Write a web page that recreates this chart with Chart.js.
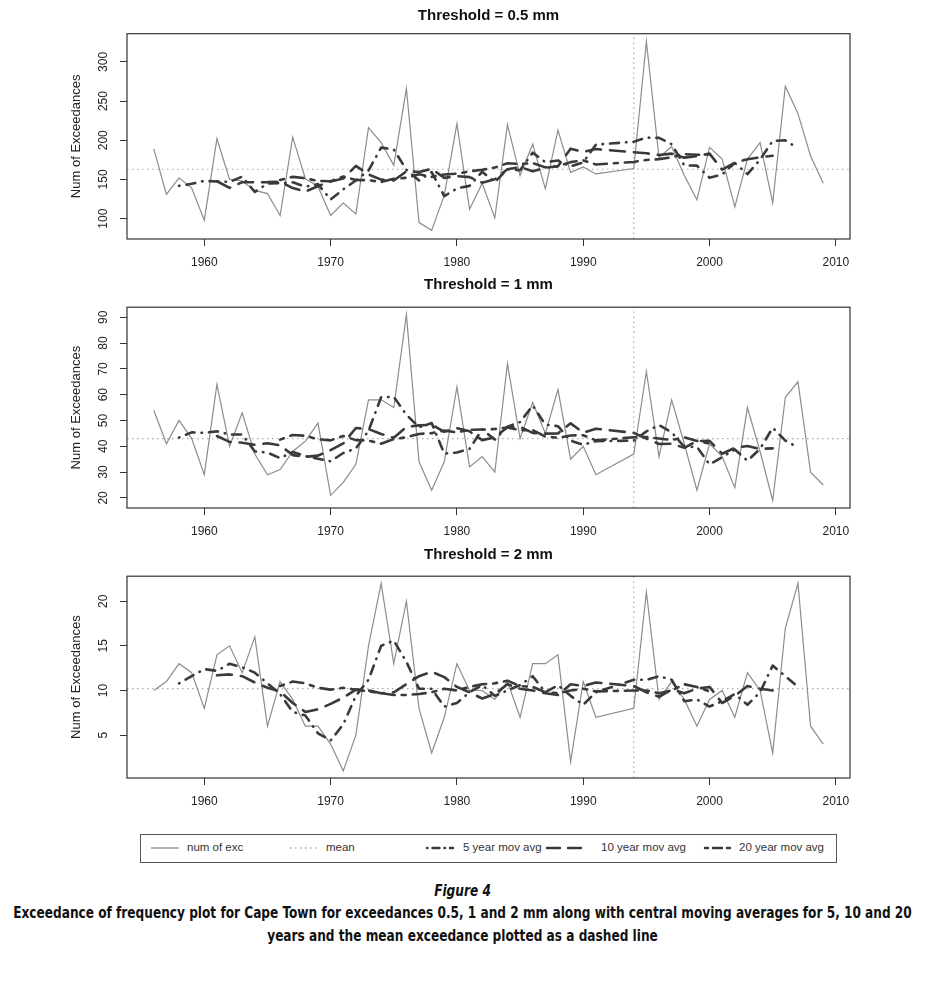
<!DOCTYPE html>
<html>
<head>
<meta charset="utf-8">
<script src="https://cdn.jsdelivr.net/npm/chart.js@4.4.1/dist/chart.umd.min.js"></script>
<style>
  body { margin: 0; background: #fff; overflow: hidden; }
  #page { position: relative; width: 925px; height: 990px; overflow: hidden; font-family: "Liberation Sans", Arial, sans-serif; color: #222; }
  canvas { position: absolute; left: 0; }
  .ttl { position: absolute; left: 127px; width: 723px; height: 18px; line-height: 18px; text-align: center; font-weight: bold; font-size: 15px; color: #111; }
  #legend { position: absolute; left: 140px; top: 834px; width: 695px; height: 27px; border: 1px solid #555; font-size: 11.5px; color: #333; }
  #legend svg, #legend span { position: absolute; }
  #legend span { top: 6px; }
  #legend svg { top: 8px; }
  .cap { position: absolute; left: -200px; width: 1325px; text-align: center; white-space: nowrap; font-family: "Liberation Sans Narrow", "DejaVu Sans Condensed", sans-serif; font-weight: bold; color: #111; font-size: 15px; transform: scaleX(0.9); transform-origin: 662.5px 0; }
</style>
</head>
<body>
<div id="page">
  <canvas id="p1" width="925" height="251" style="top:20px"></canvas>
  <canvas id="p2" width="925" height="250" style="top:290px"></canvas>
  <canvas id="p3" width="925" height="251" style="top:559px"></canvas>
  <div class="ttl" style="top:6px">Threshold = 0.5 mm</div>
  <div class="ttl" style="top:275px">Threshold = 1 mm</div>
  <div class="ttl" style="top:545px">Threshold = 2 mm</div>

  <div id="legend">
    <svg style="left:9px" width="30" height="10"><line x1="1" y1="5" x2="29" y2="5" stroke="#8c8c8c" stroke-width="1.3"/></svg>
    <span style="left:46px">num of exc</span>
    <svg style="left:148px" width="32" height="10"><line x1="1" y1="5" x2="31" y2="5" stroke="#aaa" stroke-width="1.3" stroke-dasharray="1.5 3.5"/></svg>
    <span style="left:185px">mean</span>
    <svg style="left:284px" width="30" height="10"><line x1="2" y1="5" x2="28" y2="5" stroke="#3a3a3a" stroke-width="2.4" stroke-linecap="round" stroke-dasharray="0.5 5 7 5"/></svg>
    <span style="left:322px">5 year mov avg</span>
    <svg style="left:404px" width="44" height="10"><line x1="2" y1="5" x2="42" y2="5" stroke="#3a3a3a" stroke-width="2.4" stroke-linecap="round" stroke-dasharray="13 8"/></svg>
    <span style="left:460px">10 year mov avg</span>
    <svg style="left:562px" width="30" height="10"><line x1="2" y1="5" x2="28" y2="5" stroke="#3a3a3a" stroke-width="2.4" stroke-linecap="round" stroke-dasharray="3 5 9 5"/></svg>
    <span style="left:598px">20 year mov avg</span>
  </div>

  <div class="cap" style="top:882px;font-style:italic">Figure 4</div>
  <div class="cap" style="top:904px">Exceedance of frequency plot for Cape Town for exceedances 0.5, 1 and 2 mm along with central moving averages for 5, 10 and 20</div>
  <div class="cap" style="top:927px">years and the mean exceedance plotted as a dashed line</div>
</div>

<script>
// years in the record (1992 and 1993 are missing)
var years = [1956,1957,1958,1959,1960,1961,1962,1963,1964,1965,1966,1967,1968,1969,1970,
  1971,1972,1973,1974,1975,1976,1977,1978,1979,1980,1981,1982,1983,1984,1985,1986,1987,
  1988,1989,1990,1991,1994,1995,1996,1997,1998,1999,2000,2001,2002,2003,2004,2005,2006,
  2007,2008,2009];
var xTicks = [1960,1970,1980,1990,2000,2010];
var xRange = [1953.88, 2011.12];
var markYear = 1994;

// threshold 0.5 mm
var exc05 = [189,131,152,139,98,202,150,148,136,132,104,204,151,141,104,120,106,216,197,168,
  266,95,85,130,221,112,145,101,220,155,195,138,213,159,166,157,164,326,178,192,155,124,
  191,176,115,176,197,120,269,234,180,145];
var ma5_05 = [null,null,141.8,144.4,148.2,147.4,146.8,153.6,134.0,144.8,145.4,146.4,140.8,
  144.0,124.4,137.4,148.6,161.4,190.6,188.4,162.2,148.8,159.4,128.6,138.6,141.8,159.8,
  146.6,163.2,161.8,184.2,172.0,174.2,166.6,171.8,194.4,198.2,203.4,203.0,195.0,168.0,
  167.6,152.2,156.4,171.0,156.8,175.4,199.2,200.0,189.6,null,null];
var ma10_05 = [null,null,null,null,null,147.7,139.2,146.5,146.4,146.6,147.2,139.0,134.6,
  141.4,147.5,151.1,167.3,156.4,149.8,148.7,160.4,159.6,163.5,152.0,154.3,153.0,145.9,
  150.2,163.0,165.9,160.4,164.9,166.8,189.3,185.1,188.8,184.8,183.4,181.2,182.9,177.8,
  179.7,183.0,162.4,171.5,175.7,178.2,180.3,null,null,null,null];
var ma20_05 = [null,null,null,null,null,null,null,null,null,null,149.4,153.3,151.5,148.1,
  147.7,153.8,149.3,149.1,146.7,150.9,152.1,156.6,153.3,156.4,157.3,160.4,162.3,165.2,
  170.7,169.7,170.9,165.4,166.8,172.1,174.4,169.1,172.3,174.9,175.9,178.3,182.3,181.5,
  181.9,null,null,null,null,null,null,null,null,null];
var mean05 = 163;
var yTicks05 = [100,150,200,250,300];

// threshold 1 mm
var exc1 = [54,41,50,43,29,64,40,53,37,29,31,38,42,49,21,26,33,58,58,55,91,34,23,34,63,32,
  36,30,72,43,57,45,62,35,40,29,37,69,36,58,41,23,41,36,24,55,38,19,59,65,30,25];
var ma5_1 = [null,null,43.4,45.4,45.2,45.8,44.6,44.6,38.0,37.6,35.4,37.8,36.2,35.2,34.2,
  37.4,39.2,46.0,59.0,59.2,52.2,47.4,49.0,37.2,37.6,39.0,46.6,42.6,47.6,49.4,55.8,48.4,
  47.8,42.2,40.6,42.0,42.2,45.8,48.2,45.4,39.8,39.8,33.0,35.8,38.8,34.4,39.0,47.2,42.2,
  39.6,null,null];
var ma10_1 = [null,null,null,null,null,44.0,41.7,41.4,40.6,41.2,40.4,36.6,35.9,36.4,38.5,
  41.1,47.1,46.7,44.8,43.3,47.5,48.1,48.4,45.6,47.0,45.8,42.4,43.5,47.4,47.5,45.2,44.9,
  45.0,48.9,45.3,46.8,45.2,43.0,40.9,41.0,39.4,42.0,42.1,37.1,39.4,40.1,39.0,39.2,null,
  null,null,null];
var ma20_1 = [null,null,null,null,null,null,null,null,null,null,42.6,44.4,44.1,42.7,42.3,
  44.0,42.4,42.2,41.0,42.8,43.5,44.8,45.1,46.1,45.4,46.4,46.5,46.7,47.3,46.2,46.3,43.8,
  43.3,44.2,44.3,42.3,43.5,43.6,43.0,42.4,43.5,42.1,41.1,null,null,null,null,null,null,
  null,null,null];
var mean1 = 43;
var yTicks1 = [20,30,40,50,60,70,80,90];

// threshold 2 mm
var exc2 = [10,11,13,12,8,14,15,12,16,6,11,9,6,6,4,1,5,15,22,13,20,8,3,7,13,10,10,9,11,7,
  13,13,14,2,11,7,8,21,9,11,9,6,9,10,7,12,10,3,17,22,6,4];
var ma5_2 = [null,null,10.8,11.6,12.4,12.2,13.0,12.6,12.0,10.8,9.6,7.6,7.2,5.2,4.4,6.2,9.4,
  11.2,15.0,15.6,13.2,10.2,10.2,8.2,8.6,9.8,10.6,9.4,10.0,10.6,11.6,9.8,10.6,9.4,8.4,9.8,
  11.2,11.2,11.6,11.2,8.8,9.0,8.2,8.8,9.6,8.4,9.8,12.8,11.6,10.4,null,null];
var ma10_2 = [null,null,null,null,null,11.7,11.8,11.6,10.9,10.3,9.9,8.6,7.6,7.9,8.5,9.2,
  10.1,10.0,9.7,9.8,10.7,11.6,12.1,11.5,10.4,9.8,9.1,9.6,10.7,10.2,10.0,9.7,9.5,10.7,10.5,
  10.9,10.5,9.8,9.3,10.1,9.7,10.2,10.4,8.6,9.4,10.5,10.2,10.0,null,null,null,null];
var ma20_2 = [null,null,null,null,null,null,null,null,null,null,10.5,11.0,10.8,10.3,10.1,
  10.3,10.1,9.9,9.7,9.5,9.5,9.6,9.8,10.2,10.0,10.4,10.7,10.8,11.1,10.5,10.4,9.8,9.7,10.0,
  10.2,9.9,10.0,10.0,9.7,10.0,10.7,10.4,9.9,null,null,null,null,null,null,null,null,null];
var mean2 = 10.2;
var yTicks2 = [5,10,15,20];

var boxPlugin = {
  id: 'box',
  afterDraw: function(chart) {
    var a = chart.chartArea, ctx = chart.ctx;
    ctx.save();
    ctx.strokeStyle = '#333';
    ctx.lineWidth = 1.2;
    ctx.strokeRect(a.left, a.top, a.right - a.left, a.bottom - a.top);
    ctx.restore();
  }
};

function pts(arr) {
  return years.map(function(yr, i) { return {x: yr, y: arr[i]}; });
}

function panel(id, vals, m5, m10, m20, mean, yRange, yTicks, tickPad) {
  var maStyle = { borderColor: '#3a3a3a', borderWidth: 2.6, borderCapStyle: 'round', borderJoinStyle: 'round' };
  return new Chart(document.getElementById(id), {
    type: 'line',
    data: {
      datasets: [
        { label: 'num of exc', data: pts(vals), borderColor: '#8c8c8c', borderWidth: 1.2, order: 4 },
        { label: 'mean', data: [{x: xRange[0], y: mean}, {x: xRange[1], y: mean}],
          borderColor: '#aaa', borderWidth: 1.2, borderDash: [1.5, 3.5], order: 5 },
        { label: 'mark', data: [{x: markYear, y: yRange[0]}, {x: markYear, y: yRange[1]}],
          borderColor: '#aaa', borderWidth: 1.2, borderDash: [1.5, 3.5], order: 5 },
        Object.assign({ label: '5 year mov avg', data: pts(m5), borderDash: [0.5, 7, 9, 7], order: 1 }, maStyle),
        Object.assign({ label: '10 year mov avg', data: pts(m10), borderDash: [15, 9], order: 2 }, maStyle),
        Object.assign({ label: '20 year mov avg', data: pts(m20), borderDash: [4, 7, 13, 7], order: 3 }, maStyle)
      ]
    },
    options: {
      responsive: false,
      animation: false,
      layout: { padding: { left: 62, right: 75, top: 9, bottom: 0 } },
      plugins: { legend: { display: false }, tooltip: { enabled: false } },
      elements: { point: { radius: 0 }, line: { tension: 0, fill: false } },
      scales: {
        x: {
          type: 'linear', min: xRange[0], max: xRange[1],
          afterBuildTicks: function(s) { s.ticks = xTicks.map(function(v) { return {value: v}; }); },
          afterFit: function(s) { s.height = 32; },
          grid: { display: true, drawOnChartArea: false, drawTicks: true, tickLength: 7, color: '#333', lineWidth: 1 },
          border: { display: false },
          ticks: { padding: 9, color: '#222', autoSkip: false, maxRotation: 0,
                   font: { family: 'Liberation Sans', size: 12 },
                   callback: function(v) { return String(v); } }
        },
        y: {
          type: 'linear', min: yRange[0], max: yRange[1],
          afterBuildTicks: function(s) { s.ticks = yTicks.map(function(v) { return {value: v}; }); },
          afterFit: function(s) { s.width = 65; },
          grid: { display: true, drawOnChartArea: false, drawTicks: true, tickLength: 7, color: '#333', lineWidth: 1 },
          border: { display: false },
          ticks: { minRotation: 90, maxRotation: 90, crossAlign: 'center', padding: tickPad,
                   color: '#222', autoSkip: false, font: { family: 'Liberation Sans', size: 12 },
                   callback: function(v) { return String(v); } },
          title: { display: true, text: 'Num of Exceedances', color: '#222',
                   font: { family: 'Liberation Sans', size: 13 }, padding: { top: 7, bottom: 0 } }
        }
      }
    },
    plugins: [boxPlugin]
  });
}

panel('p1', exc05, ma5_05, ma10_05, ma20_05, mean05, [74, 336], yTicks05, 6.5);
panel('p2', exc1, ma5_1, ma10_1, ma20_1, mean1, [16.1, 93.9], yTicks1, 10);
panel('p3', exc2, ma5_2, ma10_2, ma20_2, mean2, [0.2, 22.8], yTicks2, 10);
</script>
</body>
</html>
